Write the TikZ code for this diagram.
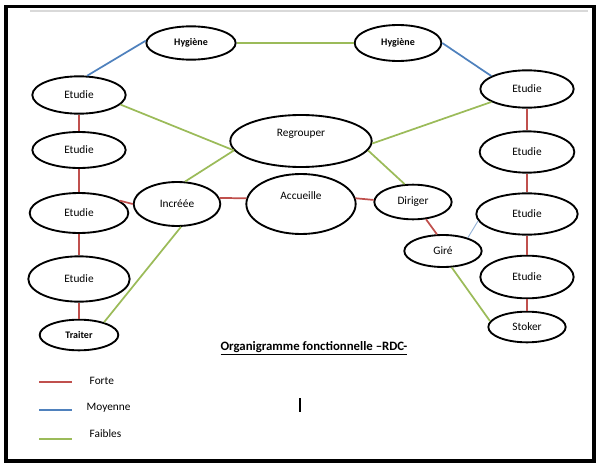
\documentclass[tikz,border=0pt]{standalone}
\usepackage{fontspec}
\setmainfont{Carlito}
\usetikzlibrary{shapes.geometric}
\definecolor{cforte}{HTML}{C0504D}
\definecolor{cmoy}{HTML}{4F81BD}
\definecolor{cfaib}{HTML}{9BBB59}
\definecolor{cpale}{HTML}{95B3D7}
\tikzset{
  act/.style={draw, ellipse, line width=1.4pt, inner sep=0pt, fill=white, font=\fontsize{8.5}{10}\selectfont},
  actb/.style={act, font=\fontsize{7.5}{9}\selectfont\bfseries},
  forte/.style={draw=cforte, line width=1.3pt},
  moyenne/.style={draw=cmoy, line width=1.3pt},
  faible/.style={draw=cfaib, line width=1.3pt},
  pale/.style={draw=cpale, line width=0.7pt},
  lbl/.style={font=\fontsize{8.5}{10}\selectfont, anchor=west},
}

\begin{document}
\begin{tikzpicture}[x=0.75pt,y=-0.75pt]
\useasboundingbox (0,0) rectangle (600,464);
% cadre
\draw[gray!30, line width=2pt] (30,11) -- (588,11);
\draw[line width=2.6pt] (6,6.5) rectangle (594,461);
% colonne gauche
\node[actb, minimum width=67pt, minimum height=25pt] (eHL) at (191,43) {Hygiène};
\node[act, minimum width=70pt, minimum height=28pt] (eL1) at (79,95) {Etudie};
\node[act, minimum width=70pt, minimum height=27pt] (eL2) at (79,150) {Etudie};
\node[act, minimum width=74pt, minimum height=30pt] (eL3) at (79,213) {Etudie};
\node[act, minimum width=76pt, minimum height=34pt] (eL4) at (79,279) {Etudie};
\node[actb, minimum width=59pt, minimum height=23pt] (eTr) at (79,335) {Traiter};
% centre
\node[act, minimum width=65pt, minimum height=33pt] (eIn) at (177,204) {Incréée};
\node[act, minimum width=106pt, minimum height=39pt, text depth=12pt] (eRe) at (301,141) {Regrouper};
\node[act, minimum width=82pt, minimum height=45pt, text depth=12pt] (eAc) at (301,204) {Accueille};
\node[act, minimum width=58pt, minimum height=26pt] (eDi) at (413,202) {Diriger};
\node[act, minimum width=58pt, minimum height=24pt] (eGi) at (443,251) {Giré};
% colonne droite
\node[actb, minimum width=65pt, minimum height=27pt] (eHR) at (398,43) {Hygiène};
\node[act, minimum width=70pt, minimum height=28pt] (eR1) at (527,89) {Etudie};
\node[act, minimum width=71pt, minimum height=31pt] (eR2) at (527,152) {Etudie};
\node[act, minimum width=76pt, minimum height=31pt] (eR3) at (527,214) {Etudie};
\node[act, minimum width=70pt, minimum height=32pt] (eR4) at (527,277) {Etudie};
\node[act, minimum width=58pt, minimum height=23pt] (eSt) at (527,327) {Stoker};

\draw[faible] (eHL.east) -- (eHR.west);
\draw[moyenne] (eL1.67) -- (eHL.177);
\draw[moyenne] (eHR.0) -- (eR1.160);
\draw[faible] (eL1.-13) -- (eRe.188);
\draw[faible] (eR1.200) -- (eRe.-2);
\draw[forte] (eL1) -- (eL2);
\draw[forte] (eL2) -- (eL3);
\draw[forte] (eL3) -- (eL4);
\draw[forte] (eL4) -- (eTr);
\draw[forte] (eL3.17) -- (eIn.180);
\draw[faible] (eIn.70) -- (eRe.188);
\draw[forte] (eIn.8) -- (eAc.174);
\draw[faible] (eIn.-80) -- (eTr.27);
\draw[faible] (eRe.-8) -- (eDi.115);
\draw[forte] (eAc.6) -- (eDi.177);
\draw[forte] (eDi.-53) -- (eGi.110);
\draw[pale] (eGi.28) -- (eR3.188);
\draw[faible] (eGi.-62) -- (eSt.171);
\draw[forte] (eR1) -- (eR2);
\draw[forte] (eR2) -- (eR3);
\draw[forte] (eR3) -- (eR4);
\draw[forte] (eR4) -- (eSt);

\node[font=\fontsize{9.6}{11}\selectfont\bfseries] (titre) at (314,348) {\underline{Organigramme fonctionnelle –RDC-}};
\draw[line width=1pt] (300,398) -- (300,412);
% legende
\coordinate (f1) at (39,382); \coordinate (f2) at (72,382);
\coordinate (m1) at (39,410); \coordinate (m2) at (72,410);
\coordinate (a1) at (39,439); \coordinate (a2) at (72,439);
\draw[forte] (f1) -- (f2);
\draw[moyenne] (m1) -- (m2);
\draw[faible] (a1) -- (a2);
\node[lbl] (lf) at (85,381) {Forte};
\node[lbl] (lm) at (82,408) {Moyenne};
\node[lbl] (la) at (85,434) {Faibles};
\end{tikzpicture}
\end{document}
